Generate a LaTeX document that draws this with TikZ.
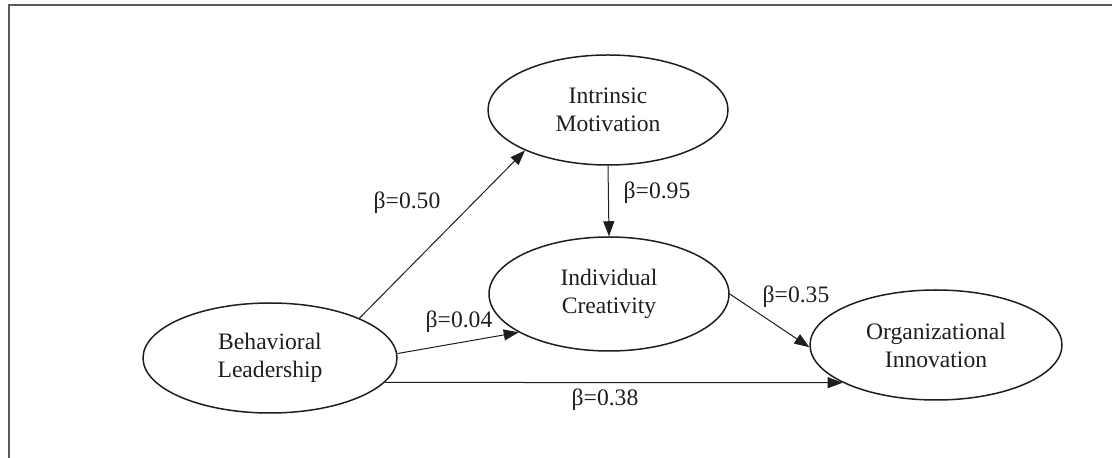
\documentclass[tikz,border=0pt]{standalone}
\usepackage{fontspec}
\setmainfont{Liberation Serif}
\usepackage{tikz}
\usetikzlibrary{shapes.geometric,arrows.meta}
\usepackage{xcolor}
\definecolor{ink}{HTML}{1E1E1E}
\definecolor{frame}{HTML}{5A5A5A}

\begin{document}
\begin{tikzpicture}[x=0.5pt, y=-0.5pt,
    construct/.style={ellipse, draw=ink, line width=0.75pt, inner sep=0pt,
      align=center, text=ink, font=\fontsize{11.8}{14}\selectfont},
    path/.style={draw=ink, line width=0.5pt, -{Triangle[length=7.5pt,width=5.5pt]}},
    coef/.style={text=ink, font=\fontsize{11.8}{14}\selectfont, inner sep=0pt}]
  \useasboundingbox (0,0) rectangle (1112,458);
  \draw[frame, line width=1pt] (9,458) -- (9,5) -- (1112,5);

  \node[construct, minimum width=127pt, minimum height=55pt] (bl) at (270,358) {Behavioral\\Leadership};
  \node[construct, minimum width=120pt, minimum height=55pt] (im) at (608,110) {Intrinsic\\Motivation};
  \node[construct, minimum width=120pt, minimum height=57pt] (ic) at (609,294) {Individual\\Creativity};
  \node[construct, minimum width=126pt, minimum height=55pt] (oi) at (936,345) {Organizational\\Innovation};

  \draw[path] (bl.24) -- (im.206);
  \draw[path] (im.south) -- (ic.north);
  \draw[path] (bl.2) -- (ic.203);
  \draw[path] (ic.east) -- (oi.181);
  \draw[path] (bl.-12) -- (oi.202);

  \node[coef] (b50) at (407,203) {β=0.50};
  \node[coef] (b95) at (657,193) {β=0.95};
  \node[coef] (b04) at (459,322) {β=0.04};
  \node[coef] (b35) at (796,297) {β=0.35};
  \node[coef] (b38) at (605,400) {β=0.38};
\end{tikzpicture}
\end{document}
